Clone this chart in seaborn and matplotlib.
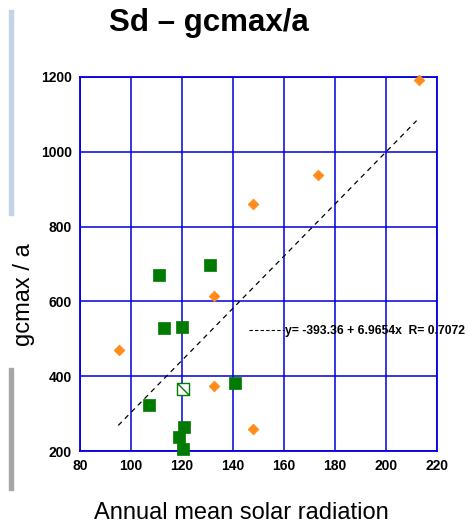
import numpy as np
import pandas as pd
import matplotlib
matplotlib.use("Agg")
import matplotlib.pyplot as plt
from matplotlib.path import Path
from matplotlib.patches import Rectangle
from matplotlib.lines import Line2D
import seaborn as sns

# ============ DATA ============
orange_x = [213, 173.5, 148, 132.7, 95.2, 132.7, 147.8]
orange_y = [1193, 938, 860, 615, 471, 375, 260]

green_x = [111.1, 131.1, 112.8, 120, 140.9, 107.2, 120.7, 118.8, 120.3]
green_y = [671, 697, 529, 531, 382, 323, 263, 238, 205]

open_x = [120.5]
open_y = [366]

fit_intercept = -393.36
fit_slope = 6.9654
fit_r = 0.7072
fit_range = [95, 212]

x_ticks = [80, 100, 120, 140, 160, 180, 200, 220]
y_ticks = [200, 400, 600, 800, 1000, 1200]

df = pd.DataFrame({
    "radiation": orange_x + green_x + open_x,
    "gcmax": orange_y + green_y + open_y,
    "group": ["orange"] * len(orange_x) + ["green"] * len(green_x) + ["open"] * len(open_x),
})

# ============ FIGURE ============
sns.set_style("white")
plt.rcParams["font.family"] = ["Liberation Sans", "DejaVu Sans"]
plt.rcParams["text.color"] = "black"
plt.rcParams["xtick.color"] = "black"
plt.rcParams["ytick.color"] = "black"

fig = plt.figure(figsize=(4.69, 5.27), dpi=100)
ax = fig.add_axes([0.1706, 0.1442, 0.7612, 0.7097])

grid_col = "#0000dd"

sns.scatterplot(data=df[df.group == "orange"], x="radiation", y="gcmax",
                marker="D", s=30, color="#ff8c1a", edgecolor="#ff8c1a",
                linewidth=0.5, ax=ax, zorder=3, legend=False, clip_on=False)
sns.scatterplot(data=df[df.group == "green"], x="radiation", y="gcmax",
                marker="s", s=85, color="#007a00", edgecolor="#007a00",
                linewidth=0.5, ax=ax, zorder=3, legend=False, clip_on=False)

# open square with a diagonal stroke
box_marker = Path(
    [(-1, 1), (1, 1), (1, -1), (-1, -1), (-1, 1), (-1, 1), (1, -1)],
    [Path.MOVETO, Path.LINETO, Path.LINETO, Path.LINETO, Path.CLOSEPOLY,
     Path.MOVETO, Path.LINETO],
)
sns.scatterplot(data=df[df.group == "open"], x="radiation", y="gcmax",
                marker=box_marker, s=75, facecolor="white", edgecolor="#007a00",
                linewidth=1.0, ax=ax, zorder=3, legend=False)

# regression line
fx = np.array(fit_range)
ax.plot(fx, fit_intercept + fit_slope * fx, ls=(0, (4, 3.5)), color="black",
        lw=0.9, zorder=2)

ax.set_xlim(80, 220)
ax.set_ylim(200, 1200)
ax.set_xticks(x_ticks)
ax.set_yticks(y_ticks)
ax.grid(True, color=grid_col, lw=1.1)
ax.set_axisbelow(True)
for sp in ax.spines.values():
    sp.set_color(grid_col)
    sp.set_linewidth(1.3)
ax.tick_params(length=0, labelsize=10, pad=6)
for lab in ax.get_xticklabels() + ax.get_yticklabels():
    lab.set_fontweight("bold")
ax.set_xlabel("")
ax.set_ylabel("")

# legend for the fit
fit_label = f"y= {fit_intercept:.2f} + {fit_slope:.4f}x  R= {fit_r:.4f}"
handle = Line2D([], [], ls=(0, (3, 2)), color="black", lw=0.8)
leg = ax.legend([handle], [fit_label], loc="center left",
                bbox_to_anchor=(0.473, 0.321), frameon=False,
                handlelength=2.9, handletextpad=0.1, borderpad=0,
                borderaxespad=0, prop={"size": 8.7, "weight": "bold"})

# titles and labels
fig.text(0.446, 0.956, "Sd \u2013 gcmax/a", ha="center", va="center",
         fontsize=22.5, fontweight="bold")
fig.text(0.052, 0.44, "gcmax / a", ha="center", va="center",
         rotation=90, fontsize=17)
fig.text(0.514, 0.027, "Annual mean solar radiation", ha="center",
         va="center", fontsize=17)

# slide decoration bars at the left edge
fig.patches.append(Rectangle((9 / 469, 1 - 215 / 527), 4 / 469, 205 / 527,
                             transform=fig.transFigure, color="#c3d3ea",
                             zorder=0))
fig.patches.append(Rectangle((9 / 469, 1 - 490 / 527), 4 / 469, 122 / 527,
                             transform=fig.transFigure, color="#a6a6a6",
                             zorder=0))

fig.savefig("out.png", dpi=100)
